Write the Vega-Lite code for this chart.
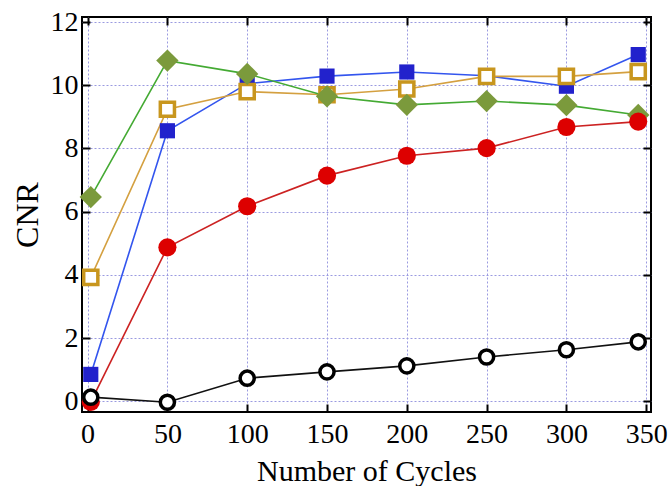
{
  "$schema": "https://vega.github.io/schema/vega-lite/v6.json",
  "width": 569,
  "height": 395,
  "padding": {"left": 11, "top": 8, "right": 0, "bottom": 0},
  "config": {
    "font": "Liberation Serif",
    "view": {"stroke": "black", "strokeWidth": 2},
    "axis": {
      "domain": false,
      "labelFont": "Liberation Serif",
      "titleFont": "Liberation Serif",
      "labelFontSize": 28,
      "titleFontSize": 30,
      "labelColor": "black",
      "titleColor": "black",
      "titleFontWeight": "normal",
      "tickColor": "black",
      "tickWidth": 2,
      "tickSize": 8,
      "gridColor": "#9a9ae0",
      "gridDash": [2, 2],
      "gridWidth": 1,
      "gridOpacity": 1
    }
  },
  "data": {
    "values": [
      {"cycles": 2, "cnr": 0.85, "series": "S3"},
      {"cycles": 50, "cnr": 8.56, "series": "S3"},
      {"cycles": 100, "cnr": 10.05, "series": "S3"},
      {"cycles": 150, "cnr": 10.29, "series": "S3"},
      {"cycles": 200, "cnr": 10.42, "series": "S3"},
      {"cycles": 250, "cnr": 10.3, "series": "S3"},
      {"cycles": 300, "cnr": 9.97, "series": "S3"},
      {"cycles": 345, "cnr": 10.97, "series": "S3"},
      {"cycles": 2, "cnr": 3.92, "series": "S4"},
      {"cycles": 50, "cnr": 9.24, "series": "S4"},
      {"cycles": 100, "cnr": 9.8, "series": "S4"},
      {"cycles": 150, "cnr": 9.7, "series": "S4"},
      {"cycles": 200, "cnr": 9.88, "series": "S4"},
      {"cycles": 250, "cnr": 10.28, "series": "S4"},
      {"cycles": 300, "cnr": 10.28, "series": "S4"},
      {"cycles": 345, "cnr": 10.43, "series": "S4"},
      {"cycles": 2, "cnr": 6.46, "series": "S5"},
      {"cycles": 50, "cnr": 10.78, "series": "S5"},
      {"cycles": 100, "cnr": 10.36, "series": "S5"},
      {"cycles": 150, "cnr": 9.65, "series": "S5"},
      {"cycles": 200, "cnr": 9.38, "series": "S5"},
      {"cycles": 250, "cnr": 9.5, "series": "S5"},
      {"cycles": 300, "cnr": 9.37, "series": "S5"},
      {"cycles": 345, "cnr": 9.06, "series": "S5"},
      {"cycles": 2, "cnr": -0.02, "series": "S2"},
      {"cycles": 50, "cnr": 4.87, "series": "S2"},
      {"cycles": 100, "cnr": 6.17, "series": "S2"},
      {"cycles": 150, "cnr": 7.14, "series": "S2"},
      {"cycles": 200, "cnr": 7.77, "series": "S2"},
      {"cycles": 250, "cnr": 8.01, "series": "S2"},
      {"cycles": 300, "cnr": 8.68, "series": "S2"},
      {"cycles": 345, "cnr": 8.85, "series": "S2"},
      {"cycles": 2, "cnr": 0.13, "series": "S1"},
      {"cycles": 50, "cnr": -0.03, "series": "S1"},
      {"cycles": 100, "cnr": 0.73, "series": "S1"},
      {"cycles": 150, "cnr": 0.93, "series": "S1"},
      {"cycles": 200, "cnr": 1.12, "series": "S1"},
      {"cycles": 250, "cnr": 1.4, "series": "S1"},
      {"cycles": 300, "cnr": 1.63, "series": "S1"},
      {"cycles": 345, "cnr": 1.88, "series": "S1"}
    ]
  },
  "encoding": {
    "x": {
      "field": "cycles",
      "type": "quantitative",
      "axis": null,
      "scale": {"domain": [-3.5, 353], "nice": false, "zero": false}
    },
    "y": {
      "field": "cnr",
      "type": "quantitative",
      "axis": null,
      "scale": {"domain": [-0.34, 12.16], "nice": false, "zero": false}
    }
  },
  "layer": [
    {
      "mark": {"type": "line", "strokeWidth": 1.6},
      "encoding": {
        "x": {
          "field": "cycles",
          "type": "quantitative",
          "scale": {"domain": [-3.5, 353], "nice": false, "zero": false},
          "axis": {"orient": "bottom", "values": [0, 50, 100, 150, 200, 250, 300, 350], "grid": true, "ticks": false, "labelPadding": 8, "title": "Number of Cycles", "titlePadding": 8}
        },
        "y": {
          "field": "cnr",
          "type": "quantitative",
          "scale": {"domain": [-0.34, 12.16], "nice": false, "zero": false},
          "axis": {"orient": "left", "values": [0, 2, 4, 6, 8, 10, 12], "grid": true, "ticks": false, "labelPadding": 4, "title": "CNR", "titlePadding": 6, "titleFontSize": 32}
        },
        "color": {
          "field": "series",
          "type": "nominal",
          "legend": null,
          "scale": {
            "domain": ["S3", "S4", "S5", "S2", "S1"],
            "range": ["#3355ee", "#d4a040", "#44aa33", "#cc2222", "#111111"]
          }
        }
      }
    },
    {
      "mark": {"type": "point", "opacity": 0},
      "encoding": {
        "x": {
          "field": "cycles",
          "type": "quantitative",
          "scale": {"domain": [-3.5, 353], "nice": false, "zero": false},
          "axis": {"orient": "top", "offset": -8, "values": [0, 50, 100, 150, 200, 250, 300, 350], "grid": false, "labels": false, "title": null}
        },
        "y": {
          "field": "cnr",
          "type": "quantitative",
          "scale": {"domain": [-0.34, 12.16], "nice": false, "zero": false},
          "axis": {"orient": "right", "offset": -8, "values": [0, 2, 4, 6, 8, 10, 12], "grid": false, "labels": false, "title": null}
        }
      }
    },
    {
      "mark": {"type": "point", "opacity": 0},
      "encoding": {
        "x": {
          "field": "cycles",
          "type": "quantitative",
          "scale": {"domain": [-3.5, 353], "nice": false, "zero": false},
          "axis": {"orient": "bottom", "offset": -8, "values": [0, 50, 100, 150, 200, 250, 300, 350], "grid": false, "labels": false, "title": null}
        },
        "y": {
          "field": "cnr",
          "type": "quantitative",
          "scale": {"domain": [-0.34, 12.16], "nice": false, "zero": false},
          "axis": {"orient": "left", "offset": -8, "values": [0, 2, 4, 6, 8, 10, 12], "grid": false, "labels": false, "title": null}
        }
      }
    },
    {
      "transform": [{"filter": "datum.series === 'S3'"}],
      "mark": {"type": "point", "shape": "square", "filled": true, "fill": "#2222cc", "size": 230, "opacity": 1}
    },
    {
      "transform": [{"filter": "datum.series === 'S4'"}],
      "mark": {"type": "point", "shape": "square", "filled": false, "stroke": "#c8961e", "fill": "white", "fillOpacity": 1, "strokeWidth": 3.5, "size": 200, "opacity": 1}
    },
    {
      "transform": [{"filter": "datum.series === 'S5'"}],
      "mark": {"type": "point", "shape": "diamond", "filled": true, "fill": "#7b9a3c", "size": 500, "opacity": 1}
    },
    {
      "transform": [{"filter": "datum.series === 'S2'"}],
      "mark": {"type": "point", "shape": "circle", "filled": true, "fill": "#dd0000", "size": 330, "opacity": 1}
    },
    {
      "transform": [{"filter": "datum.series === 'S1'"}],
      "mark": {"type": "point", "shape": "circle", "filled": false, "stroke": "black", "fill": "white", "fillOpacity": 1, "strokeWidth": 3.5, "size": 200, "opacity": 1}
    }
  ],
  "resolve": {"axis": {"x": "independent", "y": "independent"}}
}
